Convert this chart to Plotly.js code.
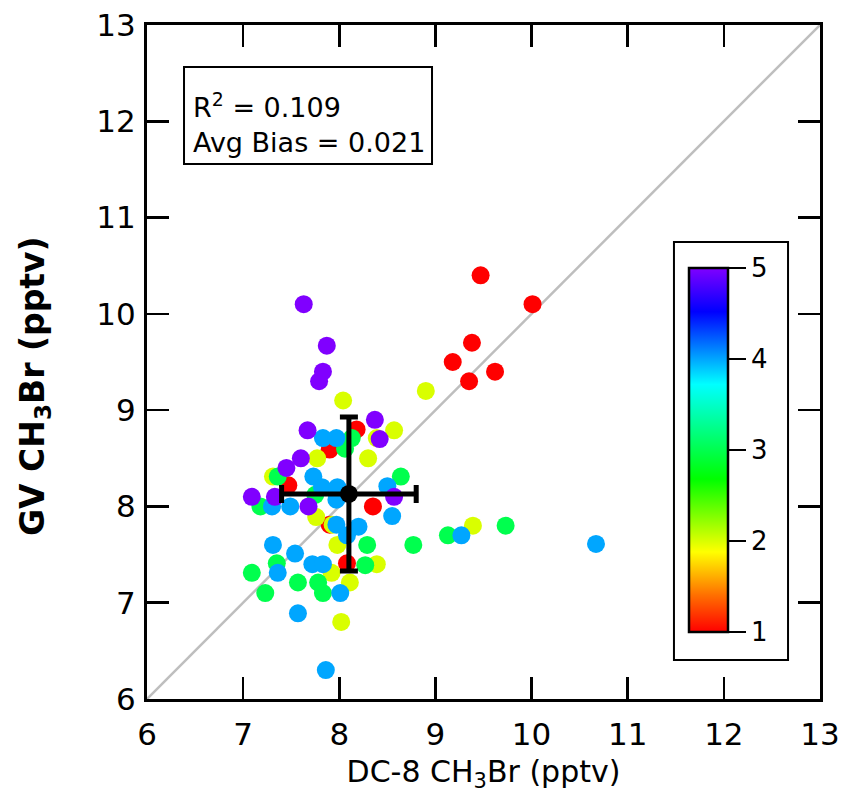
<!DOCTYPE html>
<html>
<head>
<meta charset="utf-8">
<script src="https://cdn.plot.ly/plotly-3.0.1.min.js"></script>
<style>html,body{margin:0;padding:0;background:#fff;}#chart{width:844px;height:799px;}</style>
</head>
<body>
<div id="chart"></div>
<script>
// DC-8 CH3Br (x), GV CH3Br (y), colour value (1-5)
const dc8 = [
  9.47,10.01,9.38,9.18,9.62,9.35,8.18,7.90,7.47,8.35,7.90,8.08,
  8.04,8.90,7.77,8.30,8.57,8.39,7.31,7.76,7.93,7.98,7.92,8.11,8.39,8.02,9.39,
  8.13,8.06,7.36,8.64,7.18,7.75,8.29,8.77,8.27,7.35,7.09,7.23,7.57,7.78,7.83,9.13,9.73,
  7.83,7.97,7.73,7.82,7.98,8.50,7.30,7.49,7.97,8.55,7.97,8.20,8.08,7.31,7.54,7.72,7.83,7.36,8.01,7.57,7.86,9.27,10.67,
  7.63,7.87,7.83,7.79,7.67,8.37,8.42,7.60,7.45,7.09,7.33,7.68,8.57
];
const gv = [
  10.40,10.10,9.70,9.50,9.40,9.30,8.80,8.59,8.22,8.00,7.81,7.41,
  9.10,9.20,8.50,8.50,8.79,8.71,8.31,7.89,7.81,7.60,7.31,7.21,7.40,6.80,7.80,
  8.71,8.60,8.31,8.31,8.00,8.12,7.60,7.60,7.39,7.41,7.31,7.10,7.21,7.21,7.10,7.70,7.80,
  8.71,8.71,8.31,8.20,8.20,8.21,8.00,8.00,8.07,7.90,7.81,7.79,7.70,7.60,7.51,7.40,7.40,7.31,7.10,6.89,6.30,7.70,7.61,
  10.10,9.67,9.40,9.30,8.79,8.90,8.70,8.50,8.40,8.10,8.10,8.00,8.10
];
const colorValue = [
  1,1,1,1,1,1,1,1,1,1,1,1,
  2,2,2,2,2,2,2,2,2,2,2,2,2,2,2,
  3,3,3,3,3,3,3,3,3,3,3,3,3,3,3,3,3,
  4,4,4,4,4,4,4,4,4,4,4,4,4,4,4,4,4,4,4,4,4,4,4,
  5,5,5,5,5,5,5,5,5,5,5,5,5
];
// mean with standard deviation
const meanX = [8.10];
const meanY = [8.13];
const sdX = [0.70];
const sdY = [0.80];
// 1:1 line
const oneToOne = [6, 13];
const xTicks = [6,7,8,9,10,11,12,13];
const yTicks = [6,7,8,9,10,11,12,13];
const cbTicks = [1,2,3,4,5];
const statsText = "R<sup>2</sup> = 0.109<br>Avg Bias = 0.021";
const xTitle = 'DC-8 CH<sub>3</sub>Br (pptv)';
const yTitle = 'GV CH<sub>3</sub>Br (pptv)';

const rainbow = [
  [0.00,'rgb(255,0,0)'],
  [0.10,'rgb(255,110,0)'],
  [0.22,'rgb(255,255,0)'],
  [0.42,'rgb(0,255,0)'],
  [0.68,'rgb(0,255,255)'],
  [0.88,'rgb(0,0,255)'],
  [1.00,'rgb(128,0,255)']
];
const FONT = 'DejaVu Sans, sans-serif';

const traces = [
  {x: oneToOne, y: oneToOne, mode: 'lines', line: {color: 'rgb(190,190,190)', width: 2.5}, hoverinfo: 'skip', showlegend: false},
  {x: dc8, y: gv, mode: 'markers', showlegend: false,
   marker: {size: 18, color: colorValue, cmin: 1, cmax: 5, colorscale: rainbow, line: {width: 0},
     colorbar: {
       x: 0.8053, xanchor: 'left', xpad: 0, ypad: 0,
       y: 0.3694, yanchor: 'middle', lenmode: 'pixels', len: 364,
       thickness: 39, outlinewidth: 2.5, outlinecolor: 'black',
       tickmode: 'array', tickvals: cbTicks, ticktext: cbTicks.map(String),
       ticks: 'outside', ticklen: 17, tickwidth: 2.5, tickcolor: 'black',
       tickfont: {family: FONT, size: 26, color: 'black'}
     }}},
  {x: meanX, y: meanY, mode: 'markers', showlegend: false,
   marker: {size: 18, color: 'black'},
   error_x: {type: 'data', array: sdX, visible: true, color: 'black', thickness: 5, width: 9},
   error_y: {type: 'data', array: sdY, visible: true, color: 'black', thickness: 5, width: 9}}
];

const axisCommon = {
  showgrid: false, zeroline: false, showline: true, linewidth: 3, linecolor: 'black',
  mirror: 'ticks', ticks: 'inside', ticklen: 22, tickwidth: 2.5, tickcolor: 'black',
  tickfont: {family: FONT, size: 31, color: 'black'}, tickmode: 'array'
};

const layout = {
  width: 844, height: 799,
  margin: {l: 147, r: 24, t: 25, b: 100},
  paper_bgcolor: 'white', plot_bgcolor: 'white',
  font: {family: FONT, color: 'black'},
  xaxis: Object.assign({}, axisCommon, {range: [6, 13], tickvals: xTicks, ticklabelstandoff: 6,
    title: {text: xTitle, font: {family: FONT, size: 30, color: 'black'}, standoff: 10}}),
  yaxis: Object.assign({}, axisCommon, {range: [6, 13], tickvals: yTicks, ticklabelstandoff: 2}),
  shapes: [
    {type: 'rect', xref: 'paper', yref: 'paper', x0: 0.055, x1: 0.4235, y0: 0.7938, y1: 0.9377,
     line: {color: 'black', width: 2}, fillcolor: 'white', layer: 'below'},
    {type: 'rect', xref: 'paper', yref: 'paper', x0: 0.783, x1: 0.9525, y0: 0.0579, y1: 0.678,
     line: {color: 'black', width: 2}, fillcolor: 'rgba(0,0,0,0)', layer: 'below'}
  ],
  annotations: [
    {xref: 'paper', yref: 'paper', x: 0.066, y: 0.8546, xanchor: 'left', yanchor: 'middle',
     align: 'left', showarrow: false, text: statsText,
     font: {family: FONT, size: 27, color: 'black'}},
    {xref: 'paper', yref: 'paper', x: (34 - 147) / 673, y: (699 - 386) / 674, xanchor: 'center', yanchor: 'middle',
     textangle: -90, showarrow: false, text: '<b>' + yTitle + '</b>',
     font: {family: FONT, size: 33, color: 'black'}}
  ]
};

Plotly.newPlot('chart', traces, layout, {displayModeBar: false, staticPlot: true});
</script>
</body>
</html>
